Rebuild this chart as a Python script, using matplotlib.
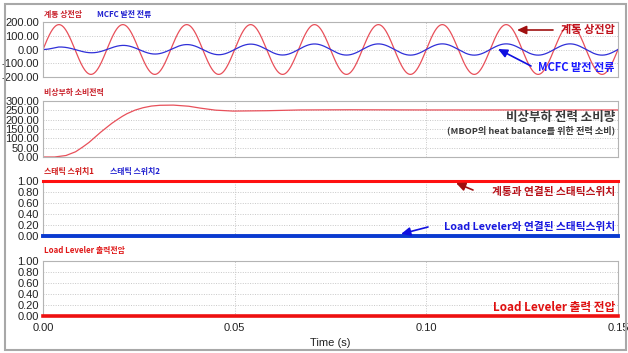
import numpy as np
import matplotlib
matplotlib.use("Agg")
import matplotlib.pyplot as plt
from matplotlib.patches import Rectangle, FancyArrowPatch

plt.rcParams['font.family'] = ['Liberation Sans', 'Noto Sans CJK KR', 'DejaVu Sans']
plt.rcParams['axes.unicode_minus'] = False
KR = ['Noto Sans CJK KR', 'DejaVu Sans']

# ---------------- data ----------------
t_end = 0.15
grid_freq_hz = 60.0
voltage_peak = 181.0
# MCFC current envelope (peak amplitude) over time
cur_env_t = [0.0, 0.004, 0.013, 0.021, 0.029, 0.038, 0.046, 0.060, 0.100, 0.150]
cur_env_a = [0.0, 18.0, 24.0, 30.0, 33.0, 36.0, 38.0, 40.0, 41.0, 41.0]

# Emergency load power consumption
p_t = [0.0, 0.003, 0.006, 0.0085, 0.0104, 0.0120, 0.0135, 0.0150, 0.0167, 0.0180,
       0.0195, 0.0207, 0.0219, 0.0240, 0.0261, 0.0283, 0.0305, 0.0340, 0.0380,
       0.0410, 0.0450, 0.0496, 0.0584, 0.0670, 0.0800, 0.1000, 0.1500]
p_v = [0.0, 0.0, 8.0, 28.0, 54.0, 78.0, 105.0, 132.0, 160.0, 181.0,
       202.0, 218.0, 232.0, 251.0, 264.0, 273.0, 277.0, 278.0, 272.0,
       262.0, 251.0, 246.0, 248.0, 252.0, 253.0, 252.0, 252.0]

switch_t = [0.0, 0.15]
switch1_v = [1.0, 1.0]
switch2_v = [0.0, 0.0]
ll_t = [0.0, 0.15]
ll_v = [0.0, 0.0]

yticks1 = [-200, -100, 0, 100, 200]
yticks2 = [0, 50, 100, 150, 200, 250, 300]
yticks3 = [0, 0.2, 0.4, 0.6, 0.8, 1.0]
xticks = [0.0, 0.05, 0.10, 0.15]

# ---------------- figure ----------------
W, H = 628, 353
fig = plt.figure(figsize=(W / 100, H / 100), dpi=100)
fig.patch.set_facecolor('white')

def fx(x):
    return x / W

def fy(y):
    return 1 - y / H

# outer frame
fig.patches.append(Rectangle((fx(5), fy(350)), fx(621), 346 / H, transform=fig.transFigure,
                             fill=False, edgecolor='#a8a8a8', linewidth=1.5))

L, R = 43, 618
panels = [(22, 77), (101, 157), (181, 236), (261, 316)]
axes = []
for top, bot in panels:
    ax = fig.add_axes([fx(L), fy(bot), (R - L) / W, (bot - top) / H])
    ax.set_xlim(0, t_end)
    for s in ax.spines.values():
        s.set_color('#b4b4b4')
        s.set_linewidth(0.8)
    ax.tick_params(length=0, labelsize=8, colors='#222222', pad=3)
    ax.set_xticks(xticks)
    ax.xaxis.grid(True, color='#c8c8c8', linestyle=(0, (1, 1.5)), linewidth=0.7)
    ax.yaxis.grid(True, color='#c8c8c8', linestyle=(0, (1, 1.5)), linewidth=0.7)
    ax.set_axisbelow(True)
    axes.append(ax)

ax1, ax2, ax3, ax4 = axes
t = np.linspace(0, t_end, 3001)
w = 2 * np.pi * grid_freq_hz
volt = voltage_peak * np.sin(w * t)
cur = np.interp(t, cur_env_t, cur_env_a) * np.sin(w * t)

ax1.plot(t, volt, color='#e8505a', linewidth=0.9)
ax1.plot(t, cur, color='#3030d8', linewidth=0.9)
ax1.set_ylim(-200, 200)
ax1.set_yticks(yticks1)
ax1.set_yticklabels(['%.2f' % v for v in yticks1])

ax2.plot(p_t, p_v, color='#e8505a', linewidth=0.9)
ax2.set_ylim(0, 300)
ax2.set_yticks(yticks2)
ax2.set_yticklabels(['%.2f' % v for v in yticks2])

ax3.plot(switch_t, switch1_v, color='#ff1010', linewidth=2.2, clip_on=False, zorder=5)
ax3.plot(switch_t, switch2_v, color='#0a3ad0', linewidth=2.8, clip_on=False, zorder=5)
ax3.set_ylim(0, 1)
ax3.set_yticks(yticks3)
ax3.set_yticklabels(['%.2f' % v for v in yticks3])

ax4.plot(ll_t, ll_v, color='#ee1010', linewidth=2.6, clip_on=False, zorder=5)
ax4.set_ylim(0, 1)
ax4.set_yticks(yticks3)
ax4.set_yticklabels(['%.2f' % v for v in yticks3])

for ax in (ax1, ax2, ax3):
    ax.tick_params(labelbottom=False)
ax4.set_xticklabels(['%.2f' % v for v in xticks])
ax4.tick_params(axis='x', pad=5)

fig.text(fx(330), fy(343), 'Time (s)', ha='center', va='center', fontsize=8, color='#222222')

# small panel titles
def ptitle(x, y, s, c):
    fig.text(fx(x), fy(y), s, ha='left', va='center', fontsize=5.7, color=c,
             fontweight='bold', family=KR)

ptitle(44, 14, '계통 상전압', '#c81e28')
ptitle(97, 14, 'MCFC 발전 전류', '#2020d0')
ptitle(44, 92, '비상부하 소비전력', '#c81e28')
ptitle(44, 172, '스태틱 스위치1', '#d01818')
ptitle(110, 172, '스태틱 스위치2', '#2020d0')
ptitle(44, 250, 'Load Leveler 출력전압', '#e01818')

# annotations
def note(x, y, s, c, size=8):
    fig.text(fx(x), fy(y), s, ha='right', va='center', fontsize=size, color=c,
             fontweight='bold', family=KR)

def arrow(x0, y0, x1, y1, c):
    fig.add_artist(FancyArrowPatch(
        (fx(x0), fy(y0)), (fx(x1), fy(y1)), transform=fig.transFigure,
        arrowstyle='-|>,head_length=0.55,head_width=0.25', color=c, linewidth=1.2,
        mutation_scale=10, shrinkA=0, shrinkB=0, zorder=10))

note(615, 30, '계통 상전압', '#c0141e')
arrow(553, 30, 517, 30, '#a01010')
note(615, 68, 'MCFC 발전 전류', '#1a1aff')
arrow(531, 66, 498, 49, '#1010e0')

note(615, 118, '비상부하 전력 소비량', '#3a3a3a', 9)
note(615, 130, '(MBOP의 heat balance를 위한 전력 소비)', '#3a3a3a', 6.6)

note(615, 192, '계통과 연결된 스태틱스위치', '#b81018', 7.7)
arrow(473, 190, 456, 183, '#a01010')
note(615, 227, 'Load Leveler와 연결된 스태틱스위치', '#1818e0', 7.7)
arrow(428, 227, 401, 234, '#1010e0')

note(615, 308, 'Load Leveler 출력 전압', '#e01010', 8.4)

fig.savefig('out.png', dpi=100)
